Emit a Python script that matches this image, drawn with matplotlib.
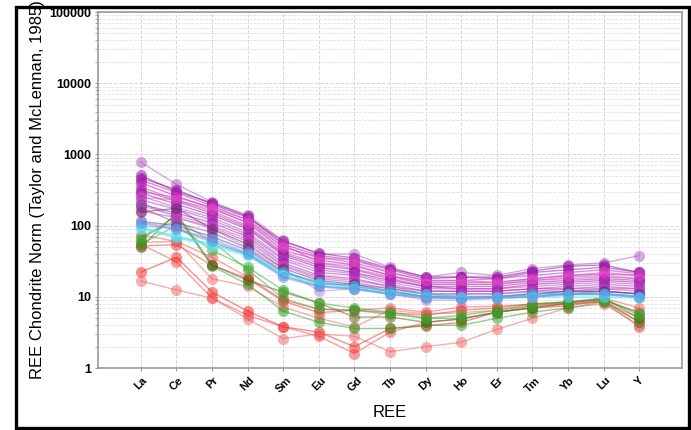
import matplotlib
matplotlib.use("Agg")
import matplotlib.pyplot as plt
from matplotlib.patches import Rectangle
from matplotlib.ticker import LogLocator, FixedLocator, NullFormatter

plt.rcParams['font.family'] = ['Liberation Sans', 'DejaVu Sans']

# elements along the x axis
elements = ['La', 'Ce', 'Pr', 'Nd', 'Sm', 'Eu', 'Gd', 'Tb', 'Dy', 'Ho', 'Er', 'Tm', 'Yb', 'Lu', 'Y']

# chondrite normalised values, one list per sample
purple_samples = [
    [780, 380, 215, 140, 62, 40, 40, 26, 19, 22, 20, 25, 28, 30, 38],
    [510, 300, 210, 135, 55, 38, 33, 24, 18, 19, 18, 22, 24, 26, 22],
    [470, 320, 200, 130, 60, 41, 35, 25, 19, 19, 19, 23, 27, 28, 22],
    [440, 290, 190, 120, 50, 36, 30, 22, 17, 17, 18, 20, 22, 24, 21],
    [400, 260, 175, 110, 45, 33, 28, 20, 16, 16, 16, 18, 20, 21, 20],
    [350, 230, 160, 100, 42, 30, 25, 19, 15, 15, 15, 17, 18, 19, 18],
    [320, 220, 150, 95, 40, 28, 24, 18, 14, 14, 14, 16, 17, 18, 17],
    [300, 250, 180, 120, 55, 30, 27, 20, 15, 15, 15, 17, 19, 20, 18],
    [290, 200, 140, 90, 38, 26, 22, 17, 14, 13, 13, 15, 16, 17, 16],
    [260, 180, 130, 80, 35, 24, 21, 16, 13, 13, 13, 14, 15, 16, 15],
    [250, 230, 170, 110, 50, 35, 33, 22, 17, 17, 16, 18, 20, 22, 20],
    [230, 170, 120, 75, 33, 22, 20, 15, 12, 12, 12, 13, 14, 15, 14],
    [210, 130, 90, 50, 25, 12, 13, 11, 9, 9, 9.5, 10, 11, 11, 10],
    [200, 150, 110, 70, 30, 20, 18, 14, 12, 12, 12, 13, 13, 14, 13],
    [190, 140, 100, 65, 28, 19, 17, 14, 11, 11, 11, 12, 13, 13, 13],
    [180, 110, 80, 48, 23, 15, 15, 13, 11, 10, 10, 11, 12, 12, 11],
    [160, 130, 95, 60, 27, 18, 16, 13, 11, 11, 11, 12, 12, 13, 12],
    [155, 175, 90, 55, 25, 17, 15, 12, 10, 10, 10, 11, 12, 12, 11],
    [115, 100, 70, 45, 22, 16, 14, 12, 10, 10, 10, 11, 11, 12, 11],
    [100, 90, 65, 42, 20, 14, 13, 11, 9.5, 9.5, 9.5, 10, 11, 11, 10],
]
purple_colors = ['#b050c0', '#9010a0', '#8a0898', '#b820b8', '#a010a8', '#cc30c0',
                 '#9818a8', '#e040c0', '#8c1098', '#c038c0', '#e050c8', '#a830b8',
                 '#b080d8', '#9820b0', '#c048c8', '#7a4a8a', '#c838b8', '#6a2a6a',
                 '#6040b0', '#a088d8']

blue_samples = [
    [95, 68, 55, 40, 22, 16, 14, 12, 11, 10, 10, 11, 11, 11, 10],
    [90, 72, 52, 38, 20, 15, 13, 11, 10, 10, 10, 10, 10, 10, 9.6],
    [110, 90, 60, 40, 19, 14, 13, 11, 10, 9.5, 10, 10, 11, 11, 10],
]
blue_colors = ['#30e0f0', '#60e8f8', '#6090e0']

green_samples = [
    [63, 140, 27, 15, 6.3, 4.4, 3.6, 3.6, 4.0, 4.0, 5.0, 6.1, 7.0, 8.5, 4.4],
    [50, 150, 28, 17, 11.7, 8.2, 5.2, 5.2, 4.4, 4.9, 6.1, 7.0, 8.2, 9.6, 5.0],
    [55, 100, 45, 26, 12.4, 8.2, 7.0, 6.1, 5.0, 5.5, 6.5, 7.9, 8.5, 9.6, 5.5],
    [70, 120, 60, 24, 9.5, 6.7, 6.5, 5.7, 5.0, 5.0, 6.0, 7.5, 8.5, 9.0, 6.0],
]
green_colors = ['#20a020', '#5a5a10', '#28b028', '#40a030']

red_samples = [
    [74, 60, 36, 19, 9.0, 6.7, 6.5, 7.0, 6.1, 7.2, 7.4, 7.9, 8.2, 9.6, 7.0],
    [52, 54, 28, 18, 8.7, 6.0, 6.5, 6.0, 5.5, 6.5, 7.0, 8.0, 8.5, 9.0, 6.0],
    [58, 60, 18, 14, 7.2, 5.0, 3.8, 6.5, 5.8, 6.0, 6.5, 7.5, 8.0, 8.5, 5.0],
    [22.3, 36, 11.7, 6.3, 3.8, 3.2, 2.0, 3.6, 3.9, 4.4, 6.1, 7.0, 7.5, 9.0, 4.4],
    [55, 31, 9.6, 5.5, 3.8, 2.8, 1.6, 3.2, 4.4, 4.9, 6.1, 7.0, 8.0, 8.5, 3.8],
    [16.7, 12.5, 9.6, 4.9, 2.6, 3.0, 2.8, 1.7, 2.0, 2.3, 3.5, 5.0, 7.0, 8.0, 4.0],
]
red_colors = ['#f05050', '#f03030', '#f06060', '#f02020', '#f04040', '#f06060']

fig = plt.figure(figsize=(6.91, 4.30), dpi=100)
ax = fig.add_axes([0.142, 0.144, 0.845, 0.828])

x = list(range(len(elements)))
groups = [(red_samples, red_colors, 1.0), (green_samples, green_colors, 1.0),
          (purple_samples, purple_colors, 1.0), (blue_samples, blue_colors, 1.8)]
for samples, colors, w in groups:
    for vals, c in zip(samples, colors):
        ax.plot(x, vals, color=c, alpha=0.5, lw=w, marker='o', ms=8,
                markeredgewidth=0, zorder=3)

ax.set_yscale('log')
ax.set_ylim(1, 100000)
ax.set_xlim(-1.2, 15.2)
ax.xaxis.set_major_locator(FixedLocator(x))
ax.set_xticklabels(elements, rotation=45, ha='center', fontsize=8, fontweight='bold')
ax.yaxis.set_minor_locator(LogLocator(base=10, subs=range(2, 10), numticks=20))
ax.yaxis.set_minor_formatter(NullFormatter())
ax.set_yticks([1, 10, 100, 1000, 10000, 100000])
ax.set_yticklabels(['1', '10', '100', '1000', '10000', '100000'], fontsize=9, fontweight='bold')

ax.grid(True, which='major', color='#d8d8d8', ls='--', lw=0.7)
ax.grid(True, which='minor', axis='y', color='#e2e2e2', ls='--', lw=0.6)
ax.set_axisbelow(True)
for s in ax.spines.values():
    s.set_color('#999999')
    s.set_linewidth(1.2)
ax.tick_params(axis='both', which='both', length=2, color='#999999', pad=3)

ax.set_xlabel('REE', fontsize=12, labelpad=8)
ax.set_ylabel('REE Chondrite Norm (Taylor and McLennan, 1985)', fontsize=12, labelpad=3)

# black frame round the figure
fig.patches.append(Rectangle((0.023, 0.005), 0.974, 0.979, transform=fig.transFigure,
                             fill=False, edgecolor='black', lw=2.4))

fig.savefig('out.png', dpi=100)
